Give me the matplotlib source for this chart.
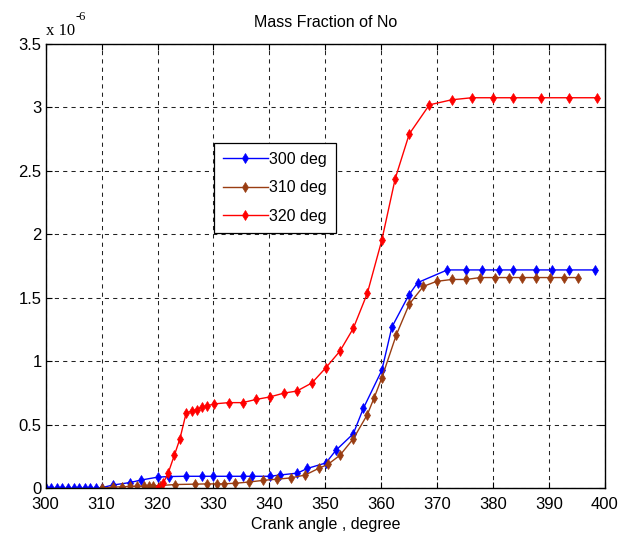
import numpy as np
import matplotlib
matplotlib.use("Agg")
import matplotlib.pyplot as plt

plt.rcParams["font.family"] = ["Liberation Sans", "DejaVu Sans"]

# NO mass fraction (units of 1e-6) against crank angle for three injection timings
x_300 = [300, 301, 302, 303, 304, 305, 306, 307, 308, 309, 310, 312, 315, 317, 320, 322, 325, 328, 330,
         332.7, 335.2, 336.9, 340.1, 341.9, 345.0, 346.8, 350.1, 351.9, 355.0, 356.8, 360.1, 361.9, 364.9,
         366.5, 371.8, 375.2, 378.0, 381.0, 383.5, 387.7, 390.5, 393.5, 398.3]
y_300 = [0, 0, 0, 0, 0, 0, 0, 0, 0, 0, 0.005, 0.026, 0.045, 0.065, 0.088, 0.093, 0.095, 0.095, 0.095,
         0.095, 0.095, 0.095, 0.095, 0.105, 0.12, 0.157, 0.20, 0.30, 0.43, 0.63, 0.93, 1.27, 1.52,
         1.62, 1.72, 1.72, 1.72, 1.72, 1.72, 1.72, 1.72, 1.72, 1.72]

x_310 = [310, 312, 313.6, 315.1, 316.3, 317.5, 318.5, 319.2, 320.4, 323.1, 326.7, 328.8, 330.6, 331.9,
         333.9, 336.4, 338.9, 341.3, 343.8, 346.4, 348.8, 350.5, 352.6, 355.0, 357.5, 358.7, 360.1,
         362.7, 365.0, 367.5, 369.9, 372.6, 375.2, 377.7, 380.3, 382.8, 385.2, 387.7, 390.1, 392.6, 395.1]
y_310 = [0.0, 0.01, 0.012, 0.015, 0.017, 0.018, 0.02, 0.02, 0.022, 0.03, 0.033, 0.035, 0.035, 0.036,
         0.04, 0.05, 0.063, 0.072, 0.082, 0.105, 0.157, 0.19, 0.26, 0.39, 0.58, 0.71, 0.87,
         1.21, 1.45, 1.59, 1.63, 1.645, 1.645, 1.66, 1.66, 1.66, 1.66, 1.66, 1.66, 1.66, 1.66]

x_320 = [320.1, 321.0, 321.9, 323.0, 324.0, 325.1, 326.1, 327.0, 327.9, 328.9, 330.1, 332.7, 335.2,
         337.6, 340.1, 342.6, 344.9, 347.6, 350.1, 352.6, 355.0, 357.5, 360.1, 362.5, 365.0, 368.6,
         372.6, 376.2, 380.0, 383.5, 388.5, 393.5, 398.5]
y_320 = [0.0, 0.04, 0.12, 0.26, 0.39, 0.59, 0.61, 0.62, 0.64, 0.65, 0.665, 0.675, 0.675,
         0.70, 0.72, 0.75, 0.766, 0.83, 0.95, 1.08, 1.26, 1.535, 1.955, 2.44, 2.79, 3.02,
         3.06, 3.076, 3.076, 3.076, 3.076, 3.076, 3.076]

labels = ["300 deg", "310 deg", "320 deg"]
colors = ["#0000ff", "#993d12", "#ff0000"]
scale = 1e-6

fig = plt.figure(figsize=(6.3, 5.42), dpi=100)
ax = fig.add_axes([0.0725, 0.099, 0.8878, 0.820])

for xs, ys, lab, col in zip([x_300, x_310, x_320], [y_300, y_310, y_320], labels, colors):
    ax.plot(xs, np.array(ys) * scale, color=col, lw=1.0, marker="d", markersize=5.5,
            markeredgewidth=0.5, label=lab)

ax.set_xlim(300, 400)
ax.set_ylim(0, 3.5 * scale)
ax.set_xticks(np.arange(300, 401, 10))
yt = np.arange(0, 3.51, 0.5)
ax.set_yticks(yt * scale)
ax.set_yticklabels([f"{v:g}" for v in yt])

ax.grid(True, color="#222222", linestyle=(0, (4, 4)), linewidth=0.75)
ax.tick_params(direction="in", length=4, width=0.8, top=True, right=True, labelsize=12)
ax.tick_params(axis="x", pad=6)
ax.tick_params(axis="y", pad=3)
for sp in ax.spines.values():
    sp.set_linewidth(1.0)
    sp.set_color("black")

ax.set_title("Mass Fraction of No", fontsize=11.5, pad=12)
ax.set_xlabel("Crank angle , degree", fontsize=11.5, labelpad=4)

# exponent label in the top left corner
ax.text(0.0, 1.02, "x 10", transform=ax.transAxes, fontsize=12, family="Liberation Serif",
        ha="left", va="baseline")
ax.text(0.054, 1.048, "-6", transform=ax.transAxes, fontsize=9, family="Liberation Serif",
        ha="left", va="bottom")

leg = ax.legend(loc="upper left", bbox_to_anchor=(0.301, 0.777), borderaxespad=0,
                fontsize=11.5, handlelength=2.8, handletextpad=0.1, labelspacing=0.85,
                fancybox=False, framealpha=1, edgecolor="black", borderpad=0.55)
leg.get_frame().set_linewidth(0.9)

fig.savefig("out.png", dpi=100)
